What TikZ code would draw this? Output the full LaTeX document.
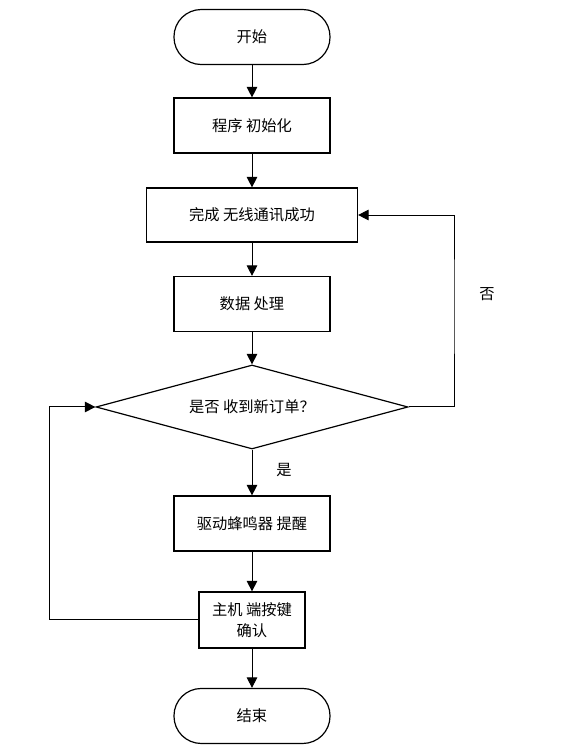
\documentclass[tikz,border=0pt]{standalone}
\usepackage{fontspec}
\setmainfont{Noto Sans CJK SC}
\usetikzlibrary{positioning,arrows.meta,shapes.geometric}
\tikzset{
    block/.style = {
        draw,
        shape=rectangle,
        minimum height=1.455cm,
        minimum width=4.128cm,
        line width=0.9pt
    },
    terminal/.style = {
        draw,
        shape=rectangle,
        rounded corners=0.72cm,
        minimum height=1.455cm,
        minimum width=4.128cm,
        line width=0.9pt
    },
    decision/.style = {
        draw,
        shape=diamond,
        aspect=3.7,
        inner sep=0pt,
        minimum height=2.223cm,
        minimum width=8.256cm,
        line width=0.9pt
    },
    >={Triangle[length=2.8mm,width=2.8mm]},
}

\begin{document}
\begin{tikzpicture}[font=\fontsize{11.5}{15.75}\selectfont, line width=0.75pt]
                \useasboundingbox (0,0) rectangle (15.135,-19.766);
                \node[terminal] (start) at (6.668,-0.979) {开始};
                \node[block] (init) at (6.668,-3.321) {程序 初始化};
                \node[block, minimum width=5.583cm, minimum height=1.429cm] (link) at (6.668,-5.689) {完成 无线通讯成功};
                \node[block] (proc) at (6.668,-8.044) {数据 处理};
                \node[decision] (check) at (6.668,-10.769) {是否 收到新订单？};
                \node[block] (buzz) at (6.668,-13.852) {驱动蜂鸣器 提醒};
                \node[block, minimum width=2.805cm, minimum height=1.482cm, align=center] (confirm) at (6.668,-16.405) {主机 端按键\\确认};
                \node[terminal] (stop) at (6.668,-18.945) {结束};

                \node (yes) at (7.515,-12.436) {是};
                \node (no) at (12.886,-7.779) {否};

                \path[draw, ->] (start) -- (init);
                \path[draw, ->] (init) -- (link);
                \path[draw, ->] (link) -- (proc);
                \path[draw, ->] (proc) -- (check);
                \path[draw, ->] (check) -- (buzz);
                \path[draw, ->] (buzz) -- (confirm);
                \path[draw, ->] (confirm) -- (stop);
                \path[draw, ->] (check.east) -| (12.013,-8) |- (link.east);
                \path[draw, ->] (confirm.west) -| (1.297,-13) |- (check.west);
            \end{tikzpicture}
\end{document}
